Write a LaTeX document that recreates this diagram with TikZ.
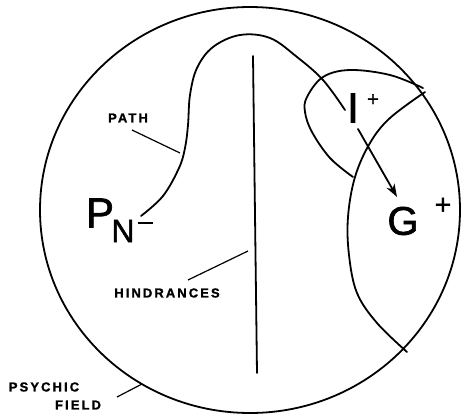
\documentclass[tikz,border=0pt]{standalone}
\usepackage{fontspec}
\setmainfont{Liberation Sans}
\newfontfamily\labelfont[LetterSpace=16, FakeBold=1.2]{Liberation Sans Bold}
\newfontfamily\letterfont[FakeBold=1.6]{Liberation Sans}
\usetikzlibrary{arrows.meta}
\tikzset{
  ink/.style={line width=1.8pt, line cap=round, line join=round},
  leader/.style={line width=1.2pt},
  lbl/.style={inner sep=0pt, font=\labelfont\fontsize{13}{13}\selectfont},
  big/.style={inner sep=0pt, font=\letterfont\fontsize{42}{42}\selectfont},
}
\begin{document}
\begin{tikzpicture}[x=1pt,y=-1pt]
\useasboundingbox (0,0) rectangle (461,413);
% psychic field
\draw[ink] (250,210) ellipse [x radius=210, y radius=203];
% hindrances
\coordinate (h1) at (253,56);
\coordinate (h2) at (257,373);
\draw[ink] (h1) -- (h2);
% goal region arc
\draw[ink] plot[smooth, tension=0.6] coordinates {(425,92) (390,118) (370,143) (355,177) (348,217) (349,255) (357,293) (377,323) (407,352)};
% intermediate loop
\draw[ink] plot[smooth, tension=0.6] coordinates {(423,88) (390,75) (350,70) (323,77) (307,97) (305,112) (312,132) (330,158) (353,177)};
% letters
\node[big] (P) at (100,213) {P};
\node[inner sep=0pt, font=\letterfont\fontsize{32}{32}\selectfont] (N) at (123,231) {N};
\node[inner sep=0pt] (Nm) at (145,223) {\rule{15pt}{2.6pt}};
\node[big] (I) at (353,108) {I};
\node[inner sep=0pt, font=\letterfont\fontsize{20}{20}\selectfont] (Ip) at (373,100) {+};
\node[inner sep=0pt, font=\letterfont\fontsize{40}{40}\selectfont] (G) at (403,221) {G};
\node[inner sep=0pt, font=\letterfont\fontsize{28}{28}\selectfont] (Gp) at (443,206) {+};
% path
\coordinate (ps) at (141,216);
\coordinate (pe) at (345,110);
\draw[ink] plot[smooth, tension=0.6] coordinates {(ps) (163,196) (179,168) (185,148) (188,125) (190,95) (197,68) (213,47) (240,35) (270,38) (297,57) (323,80) (pe)};
% arrow I -> G
\coordinate (as) at (358,129);
\coordinate (ae) at (397,197);
\draw[ink, -{Stealth[length=13pt, width=9pt, inset=4pt]}] (as) -- (ae);
% labels
\node[lbl] (path) at (128,118) {PATH};
\coordinate (pl) at (180,153);
\draw[leader] (132,130) -- (pl);
\node[lbl] (hind) at (167,293) {HINDRANCES};
\coordinate (hl) at (248,251);
\draw[leader] (188,280) -- (hl);
\node[lbl] (psy) at (44,387) {PSYCHIC};
\node[lbl] (fld) at (78,405) {FIELD};
\coordinate (fl) at (142,384);
\draw[leader] (117,397) -- (fl);
\end{tikzpicture}
\end{document}
